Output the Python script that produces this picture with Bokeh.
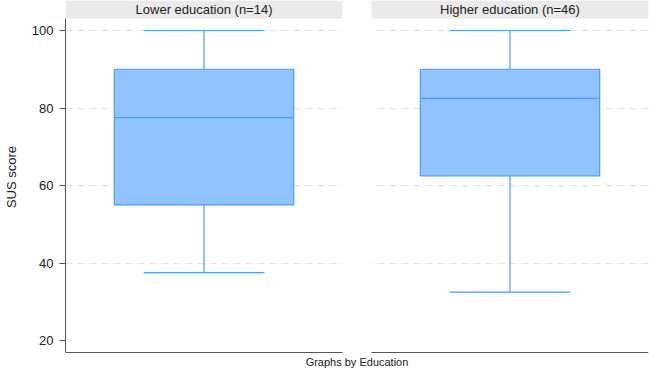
from bokeh.plotting import figure
from bokeh.models import Range1d, FixedTicker, ColumnDataSource
from bokeh.embed import file_html
from bokeh.resources import INLINE
from bokeh.core.properties import value

# ---- data ----
groups = ["Lower education (n=14)", "Higher education (n=46)"]
lower_whisker = [37.5, 32.5]
q1 = [55.0, 62.5]
median = [77.5, 82.5]
q3 = [90.0, 90.0]
upper_whisker = [100.0, 100.0]
y_ticks = [20, 40, 60, 80, 100]
grid_ticks = [40, 60, 80, 100]
y_title = "SUS score"
caption = "Graphs by Education"

# ---- layout constants ----
PANEL_W = 278
GAP = 29
BOX_HALF = 90
CAP_HALF = 60.5
PX_PER_UNIT = 310 / 80.0
Y_AXIS = 20 - 12 / PX_PER_UNIT          # bottom axis line
Y_PANEL_TOP = 100 + 12 / PX_PER_UNIT    # top of plot region
Y_MIN = 20 - 13 / PX_PER_UNIT
Y_MAX = 100 + 30 / PX_PER_UNIT
FONT = "Liberation Sans"
FILL = "#90c3ff"
LINE = "#4c9cff"

n = len(groups)
lefts = [i * (PANEL_W + GAP) for i in range(n)]
rights = [l + PANEL_W for l in lefts]
centers = [l + PANEL_W / 2 for l in lefts]
total_w = rights[-1]

src = ColumnDataSource(dict(
    group=groups, c=centers, l=lefts, r=rights,
    bl=[c - BOX_HALF for c in centers], br=[c + BOX_HALF for c in centers],
    cl=[c - CAP_HALF for c in centers], cr=[c + CAP_HALF for c in centers],
    lw=lower_whisker, q1=q1, med=median, q3=q3, uw=upper_whisker,
))

p = figure(width=649, height=377, x_range=Range1d(0, total_w), y_range=Range1d(Y_MIN, Y_MAX),
           output_backend="svg", toolbar_location=None,
           min_border_left=63, min_border_right=1, min_border_top=0, min_border_bottom=24)
p.outline_line_color = None
p.background_fill_color = "white"
p.border_fill_color = "white"

# grid
p.xgrid.visible = False
p.ygrid.ticker = FixedTicker(ticks=grid_ticks)
p.ygrid.grid_line_color = "#e4e4e4"
p.ygrid.grid_line_dash = "7 5"
p.ygrid.grid_line_width = 1

# y axis
p.yaxis.ticker = FixedTicker(ticks=y_ticks)
p.yaxis.bounds = (Y_AXIS, Y_PANEL_TOP)
p.yaxis.axis_line_color = "#555555"
p.yaxis.major_tick_line_color = "#555555"
p.yaxis.major_tick_out = 6
p.yaxis.major_tick_in = 0
p.yaxis.minor_tick_line_color = None
p.yaxis.major_label_standoff = 6
p.yaxis.major_label_text_font = FONT
p.yaxis.major_label_text_font_size = "13px"
p.yaxis.major_label_text_color = "#222222"
p.yaxis.axis_label = y_title
p.yaxis.axis_label_text_font = FONT
p.yaxis.axis_label_text_font_size = "13px"
p.yaxis.axis_label_text_font_style = "normal"
p.yaxis.axis_label_text_color = "#222222"
p.yaxis.axis_label_standoff = 10

# x axis: caption only
p.xaxis.ticker = FixedTicker(ticks=[])
p.xaxis.axis_line_color = None
p.xaxis.major_tick_line_color = None
p.xaxis.minor_tick_line_color = None
p.xaxis.major_label_text_font_size = "0px"
p.xaxis.major_label_standoff = 0
p.xaxis.axis_label = caption
p.xaxis.axis_label_text_font = FONT
p.xaxis.axis_label_text_font_size = "11px"
p.xaxis.axis_label_text_font_style = "normal"
p.xaxis.axis_label_text_color = "#222222"
p.xaxis.axis_label_standoff = 2

# gap between panels (hide grid there)
for i in range(n - 1):
    p.quad(left=rights[i], right=lefts[i + 1], bottom=Y_MIN, top=Y_MAX,
           fill_color="white", line_color=None)

# header strips
p.quad(left="l", right="r", bottom=Y_PANEL_TOP, top=Y_MAX, source=src,
       fill_color="#eaeaea", line_color=None)
p.text(x="c", y=(Y_PANEL_TOP + Y_MAX) / 2, text="group", source=src,
       text_font=value(FONT), text_font_size="13px", text_color="#222222",
       text_align="center", text_baseline="middle")

# bottom axis lines per panel
p.segment(x0="l", x1="r", y0=Y_AXIS, y1=Y_AXIS, source=src,
          line_color="#555555", line_width=1)

# whiskers
p.segment(x0="c", x1="c", y0="q3", y1="uw", source=src, line_color=LINE, line_width=1.2)
p.segment(x0="c", x1="c", y0="lw", y1="q1", source=src, line_color=LINE, line_width=1.2)
p.segment(x0="cl", x1="cr", y0="uw", y1="uw", source=src, line_color=LINE, line_width=1.2)
p.segment(x0="cl", x1="cr", y0="lw", y1="lw", source=src, line_color=LINE, line_width=1.2)

# boxes
p.quad(left="bl", right="br", bottom="q1", top="q3", source=src,
       fill_color=FILL, line_color=LINE, line_width=1.2)
p.segment(x0="bl", x1="br", y0="med", y1="med", source=src, line_color=LINE, line_width=1.2)

open("out.html", "w").write(file_html(p, INLINE))
